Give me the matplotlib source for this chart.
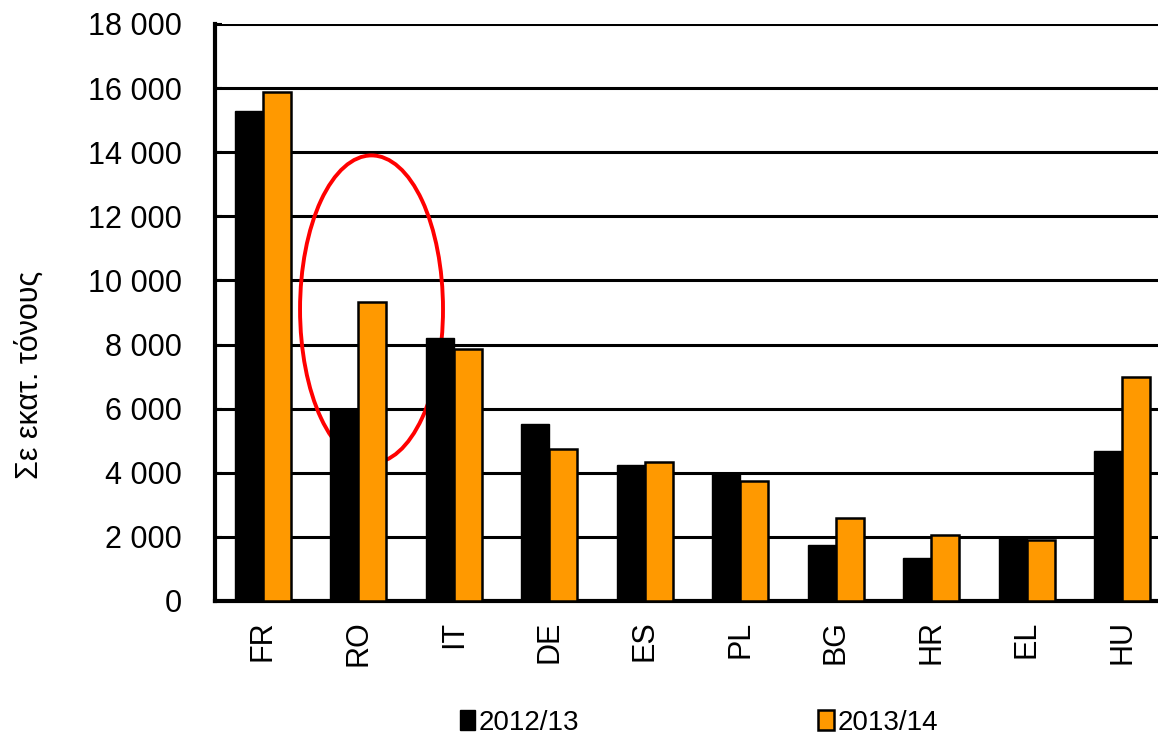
import matplotlib
matplotlib.use("Agg")
import matplotlib.pyplot as plt
from matplotlib.patches import Ellipse, Patch
from matplotlib.ticker import FuncFormatter
import numpy as np

plt.rcParams['font.family'] = ['Liberation Sans', 'DejaVu Sans']

categories = ['FR', 'RO', 'IT', 'DE', 'ES', 'PL', 'BG', 'HR', 'EL', 'HU']
series_2012_13 = [15300, 5950, 8200, 5520, 4250, 4000, 1750, 1340, 1970, 4690]
series_2013_14 = [15880, 9330, 7860, 4740, 4340, 3740, 2590, 2070, 1910, 7000]
series_labels = ['2012/13', '2013/14']
y_ticks = [0, 2000, 4000, 6000, 8000, 10000, 12000, 14000, 16000, 18000]
y_label = 'Σε εκατ. τόνους'

# highlight ellipse around RO (annotation)
highlight_category = 'RO'
highlight_center_value = 9100
highlight_height_value = 9600

FIG_W, FIG_H = 1158, 740
fig = plt.figure(figsize=(FIG_W / 100, FIG_H / 100), dpi=100)
left, right, top, bottom = 215, 215 + 955, 24, 601
ax = fig.add_axes([left / FIG_W, (FIG_H - bottom) / FIG_H,
                   (right - left) / FIG_W, (bottom - top) / FIG_H])

x = np.arange(len(categories))
w = 0.293
ax.bar(x - w / 2, series_2012_13, width=w, color='black', edgecolor='black',
       linewidth=1.0, zorder=3, label=series_labels[0])
ax.bar(x + w / 2, series_2013_14, width=w, color='#FF9900', edgecolor='black',
       linewidth=1.8, zorder=3, label=series_labels[1])

ax.set_xlim(-0.5, len(categories) - 0.5)
ax.set_ylim(0, 18000)
ax.set_yticks(y_ticks)
ax.yaxis.set_major_formatter(FuncFormatter(lambda v, p: f"{int(v):,}".replace(',', ' ')))
ax.set_xticks(x)
ax.set_xticklabels(categories, rotation=90, fontsize=22)
ax.tick_params(axis='x', length=0, pad=14)
ax.tick_params(axis='y', direction='in', length=5, width=1.5, labelsize=22, pad=24)

ax.yaxis.grid(True, color='black', linewidth=2.2, zorder=0)
ax.set_axisbelow(True)
for s in ['top', 'right']:
    ax.spines[s].set_visible(False)
ax.spines['left'].set_linewidth(3.0)
ax.spines['bottom'].set_linewidth(3.0)

hi = categories.index(highlight_category)
ell = Ellipse((hi + 0.139, highlight_center_value), width=1.497,
              height=highlight_height_value, fill=False, edgecolor='#FF0000',
              linewidth=2.8, zorder=2)
ax.add_patch(ell)

fig.text(30 / FIG_W, 1 - 375 / FIG_H, y_label, rotation=90, ha='center',
         va='center', fontsize=22)

handles = [Patch(facecolor='black', edgecolor='black'),
           Patch(facecolor='#FF9900', edgecolor='black', linewidth=1.8)]
fig.legend(handles, series_labels, loc='center', bbox_to_anchor=(699 / FIG_W, 1 - 723 / FIG_H),
           ncol=2, frameon=False, fontsize=20, handlelength=0.55, handleheight=0.75,
           handletextpad=0.15, columnspacing=8.6, borderpad=0, borderaxespad=0)

fig.savefig('out.png', dpi=100)
